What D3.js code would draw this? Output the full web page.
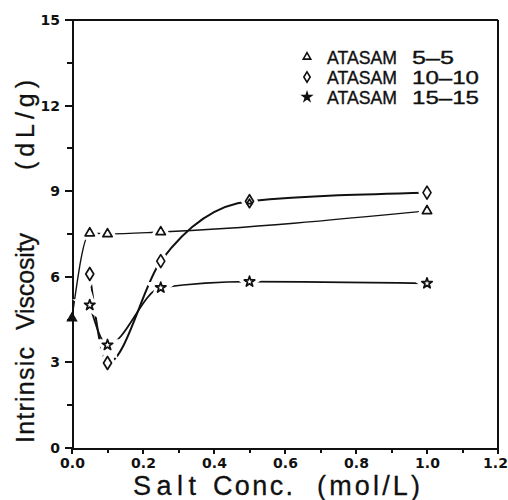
<!DOCTYPE html>
<html>
<head>
<meta charset="utf-8">
<script src="https://cdn.jsdelivr.net/npm/d3@7"></script>
<style>
  body { margin: 0; background: #fff; }
  svg { display: block; }
</style>
</head>
<body>
<svg id="chart" width="508" height="500"></svg>
<script>
// salt concentration (mol/L) and intrinsic viscosity (dL/g)
const startPoint = [{ x: 0, y: 4.55 }];
const salt55 = [0.05, 0.1, 0.25, 0.5, 1.0];
const visc55 = [7.53, 7.5, 7.57, 8.62, 8.31];
const salt1010 = [0.05, 0.1, 0.25, 0.5, 1.0];
const visc1010 = [6.1, 2.98, 6.55, 8.65, 8.95];
const salt1515 = [0.05, 0.1, 0.25, 0.5, 1.0];
const visc1515 = [5.01, 3.61, 5.62, 5.83, 5.77];
const legendNames = ["ATASAM", "ATASAM", "ATASAM"];
const legendNums = ["5\u20135", "10\u201310", "15\u201315"];
const xMajor = [0, 0.2, 0.4, 0.6, 0.8, 1.0, 1.2];
const xMinor = [0.1, 0.3, 0.5, 0.7, 0.9, 1.1];
const yMajor = [0, 3, 6, 9, 12, 15];
const yMinor = [1.5, 4.5, 7.5, 10.5, 13.5];

const svg = d3.select("#chart");
const font = "'Liberation Sans', Arial, sans-serif";
const tickFont = "'DejaVu Sans', sans-serif";
const ink = "#111";

const x = d3.scaleLinear().domain([0, 1.2]).range([72, 498]);
const y = d3.scaleLinear().domain([0, 15]).range([448, 20]);
const x0 = x.range()[0], x1 = x.range()[1];
const y0 = y.range()[0], y1 = y.range()[1];

const zip = (xs, ys) => xs.map((v, i) => ({ x: v, y: ys[i] }));
const s55 = zip(salt55, visc55);
const s1010 = zip(salt1010, visc1010);
const s1515 = zip(salt1515, visc1515);

// frame (top + right)
svg.append("line").attr("x1", x0).attr("x2", x1).attr("y1", y1).attr("y2", y1)
  .attr("stroke", ink).attr("stroke-width", 1.5).attr("shape-rendering", "crispEdges");
svg.append("line").attr("x1", x1).attr("x2", x1).attr("y1", y1).attr("y2", y0)
  .attr("stroke", ink).attr("stroke-width", 1.5).attr("shape-rendering", "crispEdges");

// axes: d3 axes for the labels, tick marks drawn out as plain lines
const gx = svg.append("g").attr("transform", `translate(0,${y0})`)
  .call(d3.axisBottom(x).tickValues(xMajor).tickSize(0).tickPadding(10)
    .tickFormat(d3.format(".1f")));
const gy = svg.append("g").attr("transform", `translate(${x0},0)`)
  .call(d3.axisLeft(y).tickValues(yMajor).tickSize(0).tickPadding(12));

svg.selectAll(".domain").attr("stroke", ink).attr("stroke-width", 2)
  .attr("shape-rendering", "crispEdges");
svg.selectAll(".tick text").attr("fill", ink)
  .style("font-family", tickFont).style("font-size", "14px").style("font-weight", "bold");
gx.selectAll(".tick text").attr("dy", "0.72em")
  .attr("dx", d => d === 1.2 ? -3 : 0);

const ticks = svg.append("g").attr("stroke", ink).attr("stroke-width", 2)
  .attr("shape-rendering", "crispEdges");
ticks.selectAll("line.xmaj").data(xMajor).join("line").attr("class", "xmaj")
  .attr("x1", d => x(d)).attr("x2", d => x(d)).attr("y1", y0).attr("y2", y0 + 6);
ticks.selectAll("line.xmin").data(xMinor).join("line").attr("class", "xmin")
  .attr("x1", d => x(d)).attr("x2", d => x(d)).attr("y1", y0).attr("y2", y0 + 5);
ticks.selectAll("line.ymaj").data(yMajor).join("line").attr("class", "ymaj")
  .attr("x1", x0 - 7).attr("x2", x0).attr("y1", d => y(d)).attr("y2", d => y(d));
ticks.selectAll("line.ymin").data(yMinor).join("line").attr("class", "ymin")
  .attr("x1", x0 - 5).attr("x2", x0).attr("y1", d => y(d)).attr("y2", d => y(d));

// curves
const curve = d3.line().x(d => x(d.x)).y(d => y(d.y)).curve(d3.curveMonotoneX);
const fit55 = startPoint.concat(s55.filter(d => d.x !== 0.5));

svg.append("path").datum(fit55).attr("d", curve)
  .attr("fill", "none").attr("stroke", ink).attr("stroke-width", 1.4);
svg.append("path").datum(s1010).attr("d", curve)
  .attr("fill", "none").attr("stroke", ink).attr("stroke-width", 2);
svg.append("path").datum(s1515).attr("d", curve)
  .attr("fill", "none").attr("stroke", ink).attr("stroke-width", 1.8);

// markers
const triPath = d3.symbol().type(d3.symbolTriangle).size(38)();
const starPath = d3.symbol().type(d3.symbolStar).size(34)();
const diaPath = "M0,-6.5L4,0L0,6.5L-4,0Z";

// a triangle sitting on a diamond is drawn small, inside it
const onDiamond = d => s1010.some(p => p.x === d.x && Math.abs(p.y - d.y) < 0.2);
const sets = [
  { data: s1515, shape: starPath, scale: () => 1 },
  { data: s1010, shape: diaPath, scale: () => 1 },
  { data: s55, shape: triPath, scale: d => onDiamond(d) ? 0.55 : 1 }
];
const place = (s) => d => `translate(${x(d.x)},${y(d.y)}) scale(${s.scale(d)})`;

// white halos first, so lines stop short of the markers
sets.forEach(s => {
  svg.append("g").selectAll("path").data(s.data.filter(d => s.scale(d) === 1)).join("path")
    .attr("d", s.shape).attr("transform", place(s))
    .attr("fill", "#fff").attr("stroke", "#fff").attr("stroke-width", 8);
});
sets.forEach(s => {
  svg.append("g").selectAll("path").data(s.data).join("path")
    .attr("d", s.shape).attr("transform", place(s))
    .attr("fill", "none").attr("stroke", ink)
    .attr("stroke-width", d => 1.7 / s.scale(d))
    .attr("stroke-linejoin", "round");
});

svg.append("g").selectAll("path").data(startPoint).join("path")
  .attr("d", triPath)
  .attr("transform", d => `translate(${x(d.x)},${y(d.y)})`)
  .attr("fill", ink).attr("stroke", ink).attr("stroke-width", 1.2);

// legend
const legendShapes = [triPath, diaPath, starPath];
const legend = svg.append("g");
legendNames.forEach((name, i) => {
  const cy = 57 + i * 20;
  legend.append("path").attr("d", legendShapes[i])
    .attr("transform", `translate(307,${cy}) scale(0.8)`)
    .attr("fill", i === 2 ? ink : "#fff").attr("stroke", ink).attr("stroke-width", 2);
  legend.append("text").attr("x", 327).attr("y", cy + 6.5)
    .style("font-family", font).style("font-size", "18px")
    .attr("fill", ink).attr("stroke", ink).attr("stroke-width", 0.35)
    .attr("textLength", 70).attr("lengthAdjust", "spacingAndGlyphs")
    .text(name);
  legend.append("text").attr("x", 412).attr("y", cy + 6.5)
    .style("font-family", font).style("font-size", "18px")
    .attr("fill", ink).attr("stroke", ink).attr("stroke-width", 0.35)
    .attr("textLength", i === 0 ? 42 : 67).attr("lengthAdjust", "spacingAndGlyphs")
    .text(legendNums[i]);
});

// axis titles
const xt = svg.append("text").attr("y", 495)
  .style("font-family", font).style("font-size", "27px")
  .attr("fill", ink).attr("stroke", ink).attr("stroke-width", 0.3);
xt.append("tspan").attr("x", 133).attr("textLength", 63).text("Salt");
xt.append("tspan").attr("x", 213).attr("textLength", 80).text("Conc.");
xt.append("tspan").attr("x", 317).attr("textLength", 103).text("(mol/L)");

const yt = svg.append("text").attr("transform", "translate(34,0) rotate(-90)")
  .style("font-family", font).style("font-size", "25px")
  .attr("fill", ink).attr("stroke", ink).attr("stroke-width", 0.3);
yt.append("tspan").attr("x", -443).attr("textLength", 96).text("Intrinsic");
yt.append("tspan").attr("x", -330).attr("textLength", 97).text("Viscosity");
yt.append("tspan").attr("x", -170).attr("textLength", 90).text("(dL/g)");
</script>
</body>
</html>
